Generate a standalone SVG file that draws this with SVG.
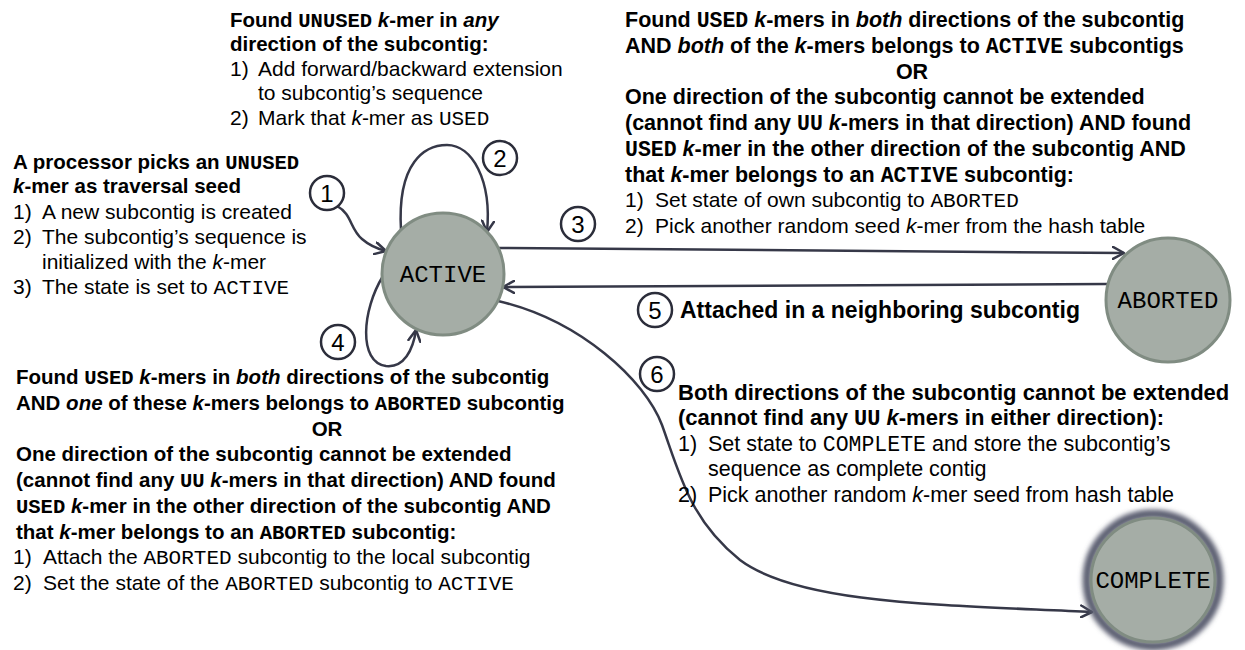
<svg xmlns="http://www.w3.org/2000/svg" width="1245" height="650" viewBox="0 0 1245 650">
<defs>
<marker id="arr" viewBox="0 0 14 14" refX="12" refY="7" markerWidth="14" markerHeight="14" markerUnits="userSpaceOnUse" orient="auto">
<path d="M1,1 L12,7 L1,13" fill="none" stroke="#363848" stroke-width="2.5" stroke-linecap="round" stroke-linejoin="round"/>
</marker>
<filter id="halo" x="-20%" y="-20%" width="140%" height="140%"><feGaussianBlur stdDeviation="2.5"/></filter>
</defs>
<style>
.t{font-family:"Liberation Sans",Arial,sans-serif;font-size:21px;fill:#000}
.b{font-weight:bold;font-size:20.5px}
.bw{font-weight:bold;font-size:21.5px}
.r2{font-size:21.5px}
.b2{font-weight:bold;font-size:22px}
.b3{font-weight:bold;font-size:23px}
.m{font-family:"Liberation Mono","Courier New",monospace}
.i{font-style:italic}
.c{text-anchor:middle}
.node{fill:#a5ada6;stroke:#808c82;stroke-width:3}
.lbl{font-family:"Liberation Mono","Courier New",monospace;font-size:24px;text-anchor:middle;fill:#000}
.num circle{fill:#fff;stroke:#2b2d3a;stroke-width:2.5}
.num text{font-family:"Liberation Sans",Arial,sans-serif;font-size:24px;text-anchor:middle;fill:#000}
.edge{fill:none;stroke:#363848;stroke-width:2.5;marker-end:url(#arr)}
</style>
<rect width="1245" height="650" fill="#fff"/>

<!-- state transitions -->
<g id="connectors">
<path class="edge" d="M337 206 C352 214 350 229 362 239 C370 246 378 249 386 251"/>
<path class="edge" d="M401 230 C397 162 425 145 447 145 C472 145 492 180 487 232"/>
<path class="edge" d="M498 248 L1124 253"/>
<path class="edge" d="M1107 284 L503 287"/>
<path class="edge" d="M383 276 C362 310 358 362 386 366 C404 368 413 350 416 330"/>
<path class="edge" d="M498 301 C580 320 645 380 662 425 C680 475 690 520 740 560 C800 605 950 605 1092 612"/>
</g>

<!-- states -->
<g id="active">
<circle class="node" cx="443" cy="274" r="61"/>
<text class="lbl" x="443" y="282">ACTIVE</text>
</g>
<g id="aborted">
<circle class="node" cx="1168" cy="300" r="62"/>
<text class="lbl" x="1168" y="308">ABORTED</text>
</g>
<g id="complete">
<circle cx="1153" cy="580" r="66" fill="none" stroke="#5a5d70" stroke-width="9" filter="url(#halo)"/>
<circle class="node" cx="1153" cy="580" r="62"/>
<text class="lbl" x="1153" y="588">COMPLETE</text>
</g>

<!-- transition numbers -->
<g id="n1" class="num"><circle cx="327" cy="193" r="17"/><text x="327" y="202">1</text></g>
<g id="n2" class="num"><circle cx="500" cy="158" r="17"/><text x="500" y="167">2</text></g>
<g id="n3" class="num"><circle cx="578" cy="224" r="17"/><text x="578" y="233">3</text></g>
<g id="n4" class="num"><circle cx="338" cy="342" r="17"/><text x="338" y="351">4</text></g>
<g id="n5" class="num"><circle cx="655" cy="310" r="17"/><text x="655" y="319">5</text></g>
<g id="n6" class="num"><circle cx="657" cy="374" r="17"/><text x="657" y="383">6</text></g>

<!-- 1: seed -->
<g id="txt1">
<text class="t b" x="13" y="169">A processor picks an <tspan class="m">UNUSED</tspan></text>
<text class="t b" x="13" y="193"><tspan class="i">k</tspan>-mer as traversal seed</text>
<text class="t" x="13" y="219">1)</text><text class="t" x="42" y="219">A new subcontig is created</text>
<text class="t" x="13" y="244">2)</text><text class="t" x="42" y="244">The subcontig’s sequence is</text>
<text class="t" x="42" y="269">initialized with the <tspan class="i">k</tspan>-mer</text>
<text class="t" x="13" y="294">3)</text><text class="t" x="42" y="294">The state is set to <tspan class="m">ACTIVE</tspan></text>
</g>

<!-- 2: extension -->
<g id="txt2">
<text class="t b" x="230" y="27">Found <tspan class="m">UNUSED</tspan> <tspan class="i">k</tspan>-mer in <tspan class="i">any</tspan></text>
<text class="t b" x="230" y="51">direction of the subcontig:</text>
<text class="t" x="230" y="76">1)</text><text class="t" x="258" y="76">Add forward/backward extension</text>
<text class="t" x="258" y="100">to subcontig’s sequence</text>
<text class="t" x="230" y="125">2)</text><text class="t" x="258" y="125">Mark that <tspan class="i">k</tspan>-mer as <tspan class="m">USED</tspan></text>
</g>

<!-- 3: abort -->
<g id="txt3">
<text class="t bw" x="625" y="27">Found <tspan class="m">USED</tspan> <tspan class="i">k</tspan>-mers in <tspan class="i">both</tspan> directions of the subcontig</text>
<text class="t bw" x="625" y="53">AND <tspan class="i">both</tspan> of the <tspan class="i">k</tspan>-mers belongs to <tspan class="m">ACTIVE</tspan> subcontigs</text>
<text class="t bw c" x="912" y="79">OR</text>
<text class="t bw" x="625" y="104">One direction of the subcontig cannot be extended</text>
<text class="t bw" x="625" y="130">(cannot find any <tspan class="m">UU</tspan> <tspan class="i">k</tspan>-mers in that direction) AND found</text>
<text class="t bw" x="625" y="156"><tspan class="m">USED</tspan> <tspan class="i">k</tspan>-mer in the other direction of the subcontig AND</text>
<text class="t bw" x="625" y="182">that <tspan class="i">k</tspan>-mer belongs to an <tspan class="m">ACTIVE</tspan> subcontig:</text>
<text class="t" x="625" y="207">1)</text><text class="t" x="655" y="207">Set state of own subcontig to <tspan class="m">ABORTED</tspan></text>
<text class="t" x="625" y="233">2)</text><text class="t" x="655" y="233">Pick another random seed <tspan class="i">k</tspan>-mer from the hash table</text>
</g>

<!-- 4: attach aborted -->
<g id="txt4">
<text class="t b" x="16" y="384">Found <tspan class="m">USED</tspan> <tspan class="i">k</tspan>-mers in <tspan class="i">both</tspan> directions of the subcontig</text>
<text class="t b" x="16" y="410">AND <tspan class="i">one</tspan> of these <tspan class="i">k</tspan>-mers belongs to <tspan class="m">ABORTED</tspan> subcontig</text>
<text class="t b c" x="327" y="436">OR</text>
<text class="t b" x="16" y="461">One direction of the subcontig cannot be extended</text>
<text class="t b" x="16" y="487">(cannot find any <tspan class="m">UU</tspan> <tspan class="i">k</tspan>-mers in that direction) AND found</text>
<text class="t b" x="16" y="513"><tspan class="m">USED</tspan> <tspan class="i">k</tspan>-mer in the other direction of the subcontig AND</text>
<text class="t b" x="16" y="539">that <tspan class="i">k</tspan>-mer belongs to an <tspan class="m">ABORTED</tspan> subcontig:</text>
<text class="t" x="13" y="564">1)</text><text class="t" x="43" y="564">Attach the <tspan class="m">ABORTED</tspan> subcontig to the local subcontig</text>
<text class="t" x="13" y="590">2)</text><text class="t" x="43" y="590">Set the state of the <tspan class="m">ABORTED</tspan> subcontig to <tspan class="m">ACTIVE</tspan></text>
</g>

<!-- 5: reactivated -->
<g id="txt5">
<text class="t b3" x="680" y="318">Attached in a neighboring subcontig</text>
</g>

<!-- 6: complete -->
<g id="txt6">
<text class="t b2" x="678" y="400">Both directions of the subcontig cannot be extended</text>
<text class="t b2" x="678" y="425">(cannot find any <tspan class="m">UU</tspan> <tspan class="i">k</tspan>-mers in either direction):</text>
<text class="t r2" x="678" y="451">1)</text><text class="t r2" x="708" y="451">Set state to <tspan class="m">COMPLETE</tspan> and store the subcontig’s</text>
<text class="t r2" x="708" y="476">sequence as complete contig</text>
<text class="t r2" x="678" y="502">2)</text><text class="t r2" x="708" y="502">Pick another random <tspan class="i">k</tspan>-mer seed from hash table</text>
</g>
</svg>
